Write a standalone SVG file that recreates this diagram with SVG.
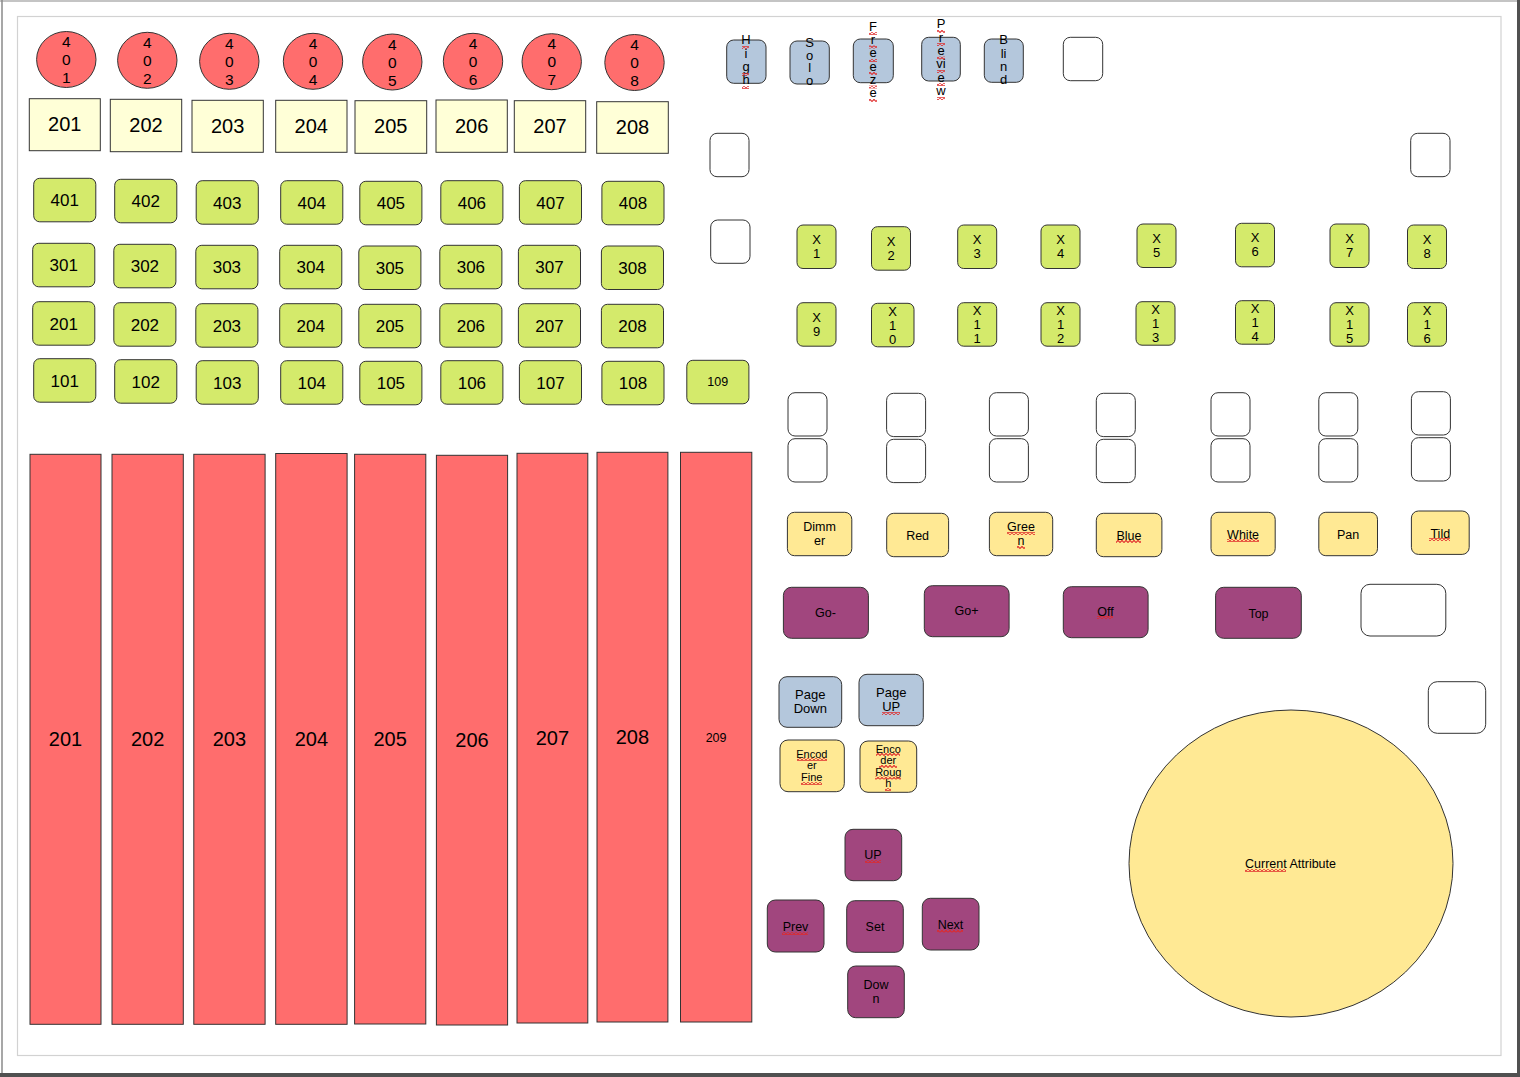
<svg xmlns="http://www.w3.org/2000/svg" width="1520" height="1077" viewBox="0 0 1520 1077">
<defs>
<pattern id="sq" patternUnits="userSpaceOnUse" width="4" height="3">
<path d="M0,2.6 L2,0.4 L4,2.6" fill="none" stroke="#e02828" stroke-width="1.1"/>
</pattern>
</defs>
<style>
.s{stroke:#333;stroke-width:1}
.red{fill:#ff6d6d}
.ly{fill:#ffffd7}
.gr{fill:#d4ea6b}
.bl{fill:#b4c7dc}
.go{fill:#ffe994}
.pu{fill:#a1467e}
.em{fill:#ffffff}
text{font-family:"Liberation Sans",Arial,sans-serif;fill:#000;text-anchor:middle}
.f20{font-size:20px}
.f17{font-size:17px}
.f15{font-size:15.5px}
.f13{font-size:13px}
.f125{font-size:12.5px}
.f11{font-size:11px}
.sqr{fill:url(#sq)}
</style>
<rect x="0" y="0" width="1520" height="1077" fill="#ffffff"/>
<g id="frame">
<line x1="0" y1="1" x2="1520" y2="1" stroke="#b0b0b0" stroke-width="1.5"/>
<line x1="2" y1="0" x2="2" y2="1077" stroke="#8a8a8a" stroke-width="1.5"/>
<rect x="1517" y="0" width="3" height="1077" fill="#505050"/>
<rect x="0" y="1073" width="1520" height="4" fill="#505050"/>
<rect x="17.5" y="16.5" width="1483.5" height="1039" fill="none" stroke="#d2d2d2" stroke-width="1.2"/>
</g>
<g id="connectors"></g>
<g id="circles">
<g id="c401"><ellipse class="red s" cx="66.3" cy="59.5" rx="29.7" ry="28"/><text class="f15"><tspan x="66.3" y="47">4</tspan><tspan x="66.3" y="65">0</tspan><tspan x="66.3" y="83">1</tspan></text></g>
<g id="c402"><ellipse class="red s" cx="147.3" cy="60.3" rx="29.7" ry="28"/><text class="f15"><tspan x="147.3" y="47.8">4</tspan><tspan x="147.3" y="65.8">0</tspan><tspan x="147.3" y="83.8">2</tspan></text></g>
<g id="c403"><ellipse class="red s" cx="229.3" cy="61.3" rx="29.7" ry="28"/><text class="f15"><tspan x="229.3" y="48.8">4</tspan><tspan x="229.3" y="66.8">0</tspan><tspan x="229.3" y="84.8">3</tspan></text></g>
<g id="c404"><ellipse class="red s" cx="313" cy="61.3" rx="29.7" ry="28"/><text class="f15"><tspan x="313" y="48.8">4</tspan><tspan x="313" y="66.8">0</tspan><tspan x="313" y="84.8">4</tspan></text></g>
<g id="c405"><ellipse class="red s" cx="392.3" cy="62" rx="29.7" ry="28"/><text class="f15"><tspan x="392.3" y="49.5">4</tspan><tspan x="392.3" y="67.5">0</tspan><tspan x="392.3" y="85.5">5</tspan></text></g>
<g id="c406"><ellipse class="red s" cx="473" cy="61.3" rx="29.7" ry="28"/><text class="f15"><tspan x="473" y="48.8">4</tspan><tspan x="473" y="66.8">0</tspan><tspan x="473" y="84.8">6</tspan></text></g>
<g id="c407"><ellipse class="red s" cx="551.7" cy="61.7" rx="29.7" ry="28"/><text class="f15"><tspan x="551.7" y="49.2">4</tspan><tspan x="551.7" y="67.2">0</tspan><tspan x="551.7" y="85.2">7</tspan></text></g>
<g id="c408"><ellipse class="red s" cx="634.5" cy="62.5" rx="29.7" ry="28"/><text class="f15"><tspan x="634.5" y="50">4</tspan><tspan x="634.5" y="68">0</tspan><tspan x="634.5" y="86">8</tspan></text></g>
</g>
<g id="labels">
<g id="l201"><rect class="ly s" x="29.3" y="98.7" width="71" height="52"/><text class="f20" x="64.8" y="131.2">201</text></g>
<g id="l202"><rect class="ly s" x="110.3" y="99.3" width="71.4" height="52.4"/><text class="f20" x="146" y="131.8">202</text></g>
<g id="l203"><rect class="ly s" x="192" y="100.3" width="71.3" height="52"/><text class="f20" x="227.6" y="132.8">203</text></g>
<g id="l204"><rect class="ly s" x="275.7" y="100.3" width="71.3" height="52"/><text class="f20" x="311.3" y="132.8">204</text></g>
<g id="l205"><rect class="ly s" x="355" y="100.7" width="71.7" height="52.6"/><text class="f20" x="390.8" y="133.3">205</text></g>
<g id="l206"><rect class="ly s" x="436" y="100" width="71.3" height="52.3"/><text class="f20" x="471.6" y="132.6">206</text></g>
<g id="l207"><rect class="ly s" x="514.3" y="100.7" width="71.4" height="51.6"/><text class="f20" x="550" y="133">207</text></g>
<g id="l208"><rect class="ly s" x="596.7" y="101.7" width="71.6" height="51.6"/><text class="f20" x="632.5" y="134">208</text></g>
</g>
<g id="buttons">
<g id="b401"><rect class="gr s" x="33.7" y="178.3" width="62.1" height="43.5" rx="6"/><text class="f17" x="64.8" y="206.3">401</text></g>
<g id="b402"><rect class="gr s" x="114.7" y="179.3" width="62.1" height="43.5" rx="6"/><text class="f17" x="145.8" y="207.3">402</text></g>
<g id="b403"><rect class="gr s" x="196.2" y="180.7" width="62.1" height="43.5" rx="6"/><text class="f17" x="227.3" y="208.7">403</text></g>
<g id="b404"><rect class="gr s" x="280.7" y="180.7" width="62.1" height="43.5" rx="6"/><text class="f17" x="311.8" y="208.7">404</text></g>
<g id="b405"><rect class="gr s" x="359.8" y="181.3" width="62.1" height="43.5" rx="6"/><text class="f17" x="390.9" y="209.3">405</text></g>
<g id="b406"><rect class="gr s" x="440.8" y="180.7" width="62.1" height="43.5" rx="6"/><text class="f17" x="471.9" y="208.7">406</text></g>
<g id="b407"><rect class="gr s" x="519.4" y="180.7" width="62.1" height="43.5" rx="6"/><text class="f17" x="550.5" y="208.7">407</text></g>
<g id="b408"><rect class="gr s" x="601.9" y="181.3" width="62.1" height="43.5" rx="6"/><text class="f17" x="633" y="209.3">408</text></g>

<g id="b301"><rect class="gr s" x="32.7" y="243.3" width="62.1" height="43.5" rx="6"/><text class="f17" x="63.8" y="271.3">301</text></g>
<g id="b302"><rect class="gr s" x="113.8" y="244.3" width="62.1" height="43.5" rx="6"/><text class="f17" x="144.9" y="272.3">302</text></g>
<g id="b303"><rect class="gr s" x="195.8" y="245.3" width="62.1" height="43.5" rx="6"/><text class="f17" x="226.9" y="273.3">303</text></g>
<g id="b304"><rect class="gr s" x="279.7" y="245.3" width="62.1" height="43.5" rx="6"/><text class="f17" x="310.8" y="273.3">304</text></g>
<g id="b305"><rect class="gr s" x="358.8" y="246" width="62.1" height="43.5" rx="6"/><text class="f17" x="389.9" y="274">305</text></g>
<g id="b306"><rect class="gr s" x="439.8" y="245.3" width="62.1" height="43.5" rx="6"/><text class="f17" x="470.9" y="273.3">306</text></g>
<g id="b307"><rect class="gr s" x="518.4" y="245.3" width="62.1" height="43.5" rx="6"/><text class="f17" x="549.5" y="273.3">307</text></g>
<g id="b308"><rect class="gr s" x="601.4" y="246" width="62.1" height="43.5" rx="6"/><text class="f17" x="632.5" y="274">308</text></g>

<g id="b201"><rect class="gr s" x="32.7" y="301.7" width="62.1" height="43.5" rx="6"/><text class="f17" x="63.8" y="329.7">201</text></g>
<g id="b202"><rect class="gr s" x="113.8" y="302.7" width="62.1" height="43.5" rx="6"/><text class="f17" x="144.9" y="330.7">202</text></g>
<g id="b203"><rect class="gr s" x="195.8" y="303.7" width="62.1" height="43.5" rx="6"/><text class="f17" x="226.9" y="331.7">203</text></g>
<g id="b204"><rect class="gr s" x="279.7" y="303.7" width="62.1" height="43.5" rx="6"/><text class="f17" x="310.8" y="331.7">204</text></g>
<g id="b205"><rect class="gr s" x="358.8" y="304.3" width="62.1" height="43.5" rx="6"/><text class="f17" x="389.9" y="332.3">205</text></g>
<g id="b206"><rect class="gr s" x="439.8" y="303.7" width="62.1" height="43.5" rx="6"/><text class="f17" x="470.9" y="331.7">206</text></g>
<g id="b207"><rect class="gr s" x="518.4" y="303.7" width="62.1" height="43.5" rx="6"/><text class="f17" x="549.5" y="331.7">207</text></g>
<g id="b208"><rect class="gr s" x="601.4" y="304.3" width="62.1" height="43.5" rx="6"/><text class="f17" x="632.5" y="332.3">208</text></g>

<g id="b101"><rect class="gr s" x="33.7" y="358.7" width="62.1" height="43.5" rx="6"/><text class="f17" x="64.8" y="386.7">101</text></g>
<g id="b102"><rect class="gr s" x="114.7" y="359.7" width="62.1" height="43.5" rx="6"/><text class="f17" x="145.8" y="387.7">102</text></g>
<g id="b103"><rect class="gr s" x="196.2" y="360.7" width="62.1" height="43.5" rx="6"/><text class="f17" x="227.3" y="388.7">103</text></g>
<g id="b104"><rect class="gr s" x="280.7" y="360.7" width="62.1" height="43.5" rx="6"/><text class="f17" x="311.8" y="388.7">104</text></g>
<g id="b105"><rect class="gr s" x="359.8" y="361.3" width="62.1" height="43.5" rx="6"/><text class="f17" x="390.9" y="389.3">105</text></g>
<g id="b106"><rect class="gr s" x="440.8" y="360.7" width="62.1" height="43.5" rx="6"/><text class="f17" x="471.9" y="388.7">106</text></g>
<g id="b107"><rect class="gr s" x="519.4" y="360.7" width="62.1" height="43.5" rx="6"/><text class="f17" x="550.5" y="388.7">107</text></g>
<g id="b108"><rect class="gr s" x="601.9" y="361.3" width="62.1" height="43.5" rx="6"/><text class="f17" x="633" y="389.3">108</text></g>
<g id="b109"><rect class="gr s" x="686.8" y="360.3" width="62.1" height="43.5" rx="6"/><text class="f125" x="717.8" y="386.3">109</text></g>
</g>
<g id="faders">
<g id="f201"><rect class="red s" x="30" y="454.3" width="71" height="570"/><text class="f20" x="65.5" y="746">201</text></g>
<g id="f202"><rect class="red s" x="112" y="454.3" width="71.3" height="570"/><text class="f20" x="147.6" y="746">202</text></g>
<g id="f203"><rect class="red s" x="193.8" y="454.3" width="71.3" height="570"/><text class="f20" x="229.4" y="746">203</text></g>
<g id="f204"><rect class="red s" x="275.7" y="453.5" width="71.4" height="570.8"/><text class="f20" x="311.4" y="746">204</text></g>
<g id="f205"><rect class="red s" x="354.6" y="454.3" width="71.2" height="569.7"/><text class="f20" x="390.2" y="746">205</text></g>
<g id="f206"><rect class="red s" x="436.4" y="455.3" width="71.2" height="569.7"/><text class="f20" x="472" y="747.3">206</text></g>
<g id="f207"><rect class="red s" x="517" y="453.3" width="70.8" height="569.7"/><text class="f20" x="552.4" y="745">207</text></g>
<g id="f208"><rect class="red s" x="597" y="452.3" width="70.9" height="569.7"/><text class="f20" x="632.4" y="744">208</text></g>
<g id="f209"><rect class="red s" x="680.5" y="452.3" width="71.3" height="569.7"/><text class="f125" x="716.1" y="742">209</text></g>
</g>
<g id="modes">
<g id="high"><rect class="bl s" x="726.7" y="40" width="39.3" height="43.3" rx="7"/><text class="f13"><tspan x="746" y="44.3">H</tspan><tspan x="746" y="57.7">i</tspan><tspan x="746" y="71">g</tspan><tspan x="746" y="84.3">h</tspan></text></g>
<g id="solo"><rect class="bl s" x="790" y="41" width="39.3" height="43" rx="7"/><text class="f13"><tspan x="809.6" y="46.7">S</tspan><tspan x="809.6" y="59.5">o</tspan><tspan x="809.6" y="72.3">l</tspan><tspan x="809.6" y="85">o</tspan></text></g>
<g id="freeze"><rect class="bl s" x="853.3" y="39" width="40" height="43.7" rx="7"/><text class="f13"><tspan x="873" y="30.7">F</tspan><tspan x="873" y="44">r</tspan><tspan x="873" y="57.3">e</tspan><tspan x="873" y="70.6">e</tspan><tspan x="873" y="84">z</tspan><tspan x="873" y="97.3">e</tspan></text></g>
<g id="preview"><rect class="bl s" x="921.7" y="37.3" width="38.6" height="43.7" rx="7"/><text class="f13"><tspan x="941" y="28.3">P</tspan><tspan x="941" y="41.7">r</tspan><tspan x="941" y="55">e</tspan><tspan x="941" y="68.4">vi</tspan><tspan x="941" y="81.8">e</tspan><tspan x="941" y="95.2">w</tspan></text></g>
<g id="blind"><rect class="bl s" x="984.3" y="39" width="39" height="43.3" rx="7"/><text class="f13"><tspan x="1003.6" y="44.3">B</tspan><tspan x="1003.6" y="57.7">li</tspan><tspan x="1003.6" y="71">n</tspan><tspan x="1003.6" y="84.4">d</tspan></text></g>
<g id="empty1"><rect class="em s" x="1063.3" y="37.3" width="39.4" height="43.4" rx="7"/></g>
<g id="empty2"><rect class="em s" x="710" y="133.3" width="39" height="43.4" rx="7"/></g>
<g id="empty3"><rect class="em s" x="710.7" y="220" width="39.3" height="43.3" rx="7"/></g>
<g id="empty4"><rect class="em s" x="1410.7" y="133.3" width="39.3" height="43.4" rx="7"/></g>
</g>
<g id="executors">
<g id="x1"><rect class="gr s" x="797" y="225" width="39" height="43.5" rx="6"/><text class="f13"><tspan x="816.5" y="244">X</tspan><tspan x="816.5" y="258">1</tspan></text></g>
<g id="x2"><rect class="gr s" x="871.5" y="226.7" width="39" height="43.5" rx="6"/><text class="f13"><tspan x="891" y="245.7">X</tspan><tspan x="891" y="259.7">2</tspan></text></g>
<g id="x3"><rect class="gr s" x="957.7" y="225" width="39" height="43.5" rx="6"/><text class="f13"><tspan x="977.2" y="244">X</tspan><tspan x="977.2" y="258">3</tspan></text></g>
<g id="x4"><rect class="gr s" x="1041" y="225" width="39" height="43.5" rx="6"/><text class="f13"><tspan x="1060.5" y="244">X</tspan><tspan x="1060.5" y="258">4</tspan></text></g>
<g id="x5"><rect class="gr s" x="1137" y="224" width="39" height="43.5" rx="6"/><text class="f13"><tspan x="1156.5" y="243">X</tspan><tspan x="1156.5" y="257">5</tspan></text></g>
<g id="x6"><rect class="gr s" x="1235.5" y="223.3" width="39" height="43.5" rx="6"/><text class="f13"><tspan x="1255" y="242.3">X</tspan><tspan x="1255" y="256.3">6</tspan></text></g>
<g id="x7"><rect class="gr s" x="1330" y="224" width="39" height="43.5" rx="6"/><text class="f13"><tspan x="1349.5" y="243">X</tspan><tspan x="1349.5" y="257">7</tspan></text></g>
<g id="x8"><rect class="gr s" x="1407.5" y="225" width="39" height="43.5" rx="6"/><text class="f13"><tspan x="1427" y="244">X</tspan><tspan x="1427" y="258">8</tspan></text></g>
<g id="x9"><rect class="gr s" x="797" y="302.7" width="39" height="43.5" rx="6"/><text class="f13"><tspan x="816.5" y="321.7">X</tspan><tspan x="816.5" y="335.7">9</tspan></text></g>
<g id="x10"><rect class="gr s" x="871.5" y="303.3" width="42.5" height="43.5" rx="6"/><text class="f13"><tspan x="892.7" y="315.6">X</tspan><tspan x="892.7" y="329.6">1</tspan><tspan x="892.7" y="343.6">0</tspan></text></g>
<g id="x11"><rect class="gr s" x="957.7" y="302.7" width="39" height="43.5" rx="6"/><text class="f13"><tspan x="977.2" y="315">X</tspan><tspan x="977.2" y="329">1</tspan><tspan x="977.2" y="343">1</tspan></text></g>
<g id="x12"><rect class="gr s" x="1041" y="302.7" width="39" height="43.5" rx="6"/><text class="f13"><tspan x="1060.5" y="315">X</tspan><tspan x="1060.5" y="329">1</tspan><tspan x="1060.5" y="343">2</tspan></text></g>
<g id="x13"><rect class="gr s" x="1136" y="301.7" width="39" height="43.5" rx="6"/><text class="f13"><tspan x="1155.5" y="314">X</tspan><tspan x="1155.5" y="328">1</tspan><tspan x="1155.5" y="342">3</tspan></text></g>
<g id="x14"><rect class="gr s" x="1235.5" y="300.7" width="39" height="43.5" rx="6"/><text class="f13"><tspan x="1255" y="313">X</tspan><tspan x="1255" y="327">1</tspan><tspan x="1255" y="341">4</tspan></text></g>
<g id="x15"><rect class="gr s" x="1330" y="302.7" width="39" height="43.5" rx="6"/><text class="f13"><tspan x="1349.5" y="315">X</tspan><tspan x="1349.5" y="329">1</tspan><tspan x="1349.5" y="343">5</tspan></text></g>
<g id="x16"><rect class="gr s" x="1407.5" y="302.7" width="39" height="43.5" rx="6"/><text class="f13"><tspan x="1427" y="315">X</tspan><tspan x="1427" y="329">1</tspan><tspan x="1427" y="343">6</tspan></text></g>
</g>
<g id="encoders">
<g id="e1"><rect class="em s" x="788" y="392.7" width="39" height="43.3" rx="7"/><rect class="em s" x="788" y="438.7" width="39" height="43.3" rx="7"/></g>
<g id="e2"><rect class="em s" x="886.6" y="393.3" width="39" height="43.3" rx="7"/><rect class="em s" x="886.6" y="439.3" width="39" height="43.3" rx="7"/></g>
<g id="e3"><rect class="em s" x="989.4" y="392.7" width="39" height="43.3" rx="7"/><rect class="em s" x="989.4" y="438.7" width="39" height="43.3" rx="7"/></g>
<g id="e4"><rect class="em s" x="1096.3" y="393.3" width="39" height="43.3" rx="7"/><rect class="em s" x="1096.3" y="439.3" width="39" height="43.3" rx="7"/></g>
<g id="e5"><rect class="em s" x="1211" y="392.7" width="39" height="43.3" rx="7"/><rect class="em s" x="1211" y="438.7" width="39" height="43.3" rx="7"/></g>
<g id="e6"><rect class="em s" x="1318.8" y="392.7" width="39" height="43.3" rx="7"/><rect class="em s" x="1318.8" y="438.7" width="39" height="43.3" rx="7"/></g>
<g id="e7"><rect class="em s" x="1411.4" y="391.7" width="39" height="43.3" rx="7"/><rect class="em s" x="1411.4" y="437.7" width="39" height="43.3" rx="7"/></g>
</g>
<g id="attributes">
<g id="dimmer"><rect class="go s" x="787.4" y="512.3" width="64.4" height="43.4" rx="7"/><text class="f125"><tspan x="819.6" y="531">Dimm</tspan><tspan x="819.6" y="545">er</tspan></text></g>
<g id="red"><rect class="go s" x="886.7" y="513.3" width="61.9" height="43.4" rx="7"/><text class="f125" x="917.6" y="539.5">Red</text></g>
<g id="green"><rect class="go s" x="989.4" y="512.3" width="63.3" height="43.4" rx="7"/><text class="f125"><tspan x="1021" y="531">Gree</tspan><tspan x="1021" y="545">n</tspan></text></g>
<g id="blue"><rect class="go s" x="1096.3" y="513.3" width="65.6" height="43.4" rx="7"/><text class="f125" x="1129" y="539.5">Blue</text></g>
<g id="white"><rect class="go s" x="1211" y="512.3" width="64.2" height="43.4" rx="7"/><text class="f125" x="1243.1" y="538.5">White</text></g>
<g id="pan"><rect class="go s" x="1318.8" y="512.3" width="58.7" height="43.4" rx="7"/><text class="f125" x="1348.1" y="538.5">Pan</text></g>
<g id="tild"><rect class="go s" x="1411.4" y="511" width="57.8" height="43.4" rx="7"/><text class="f125" x="1440.3" y="537.5">Tild</text></g>
</g>
<g id="playback">
<g id="gominus"><rect class="pu s" x="783.4" y="587.3" width="85" height="51" rx="8"/><text class="f125" x="825.5" y="617">Go-</text></g>
<g id="goplus"><rect class="pu s" x="924.3" y="585.7" width="84.8" height="51" rx="8"/><text class="f125" x="966.5" y="614.5">Go+</text></g>
<g id="off"><rect class="pu s" x="1063.3" y="586.7" width="84.8" height="51" rx="8"/><text class="f125" x="1105.5" y="615.5">Off</text></g>
<g id="top"><rect class="pu s" x="1215.6" y="587.3" width="85.7" height="51" rx="8"/><text class="f125" x="1258.5" y="617.5">Top</text></g>
<g id="empty5"><rect class="em s" x="1361" y="584.3" width="84.8" height="51.7" rx="9"/></g>
</g>
<g id="paging">
<g id="pagedown"><rect class="bl s" x="779" y="676.7" width="62.7" height="50.6" rx="8"/><text class="f13"><tspan x="810.3" y="699.3">Page</tspan><tspan x="810.3" y="713.3">Down</tspan></text></g>
<g id="pageup"><rect class="bl s" x="859" y="674.3" width="64.3" height="51.4" rx="8"/><text class="f13"><tspan x="891.2" y="697.3">Page</tspan><tspan x="891.2" y="711">UP</tspan></text></g>
<g id="encfine"><rect class="go s" x="780" y="740" width="64.3" height="51.7" rx="8"/><text class="f11"><tspan x="811.8" y="757.5">Encod</tspan><tspan x="811.8" y="769.3">er</tspan><tspan x="811.8" y="781">Fine</tspan></text></g>
<g id="encrough"><rect class="go s" x="860" y="741" width="56.7" height="51.3" rx="8"/><text class="f11"><tspan x="888.3" y="752.8">Enco</tspan><tspan x="888.3" y="764.2">der</tspan><tspan x="888.3" y="775.6">Roug</tspan><tspan x="888.3" y="787">h</tspan></text></g>
</g>
<g id="navigation">
<g id="up"><rect class="pu s" x="845" y="829.3" width="56.7" height="51.4" rx="8"/><text class="f125" x="873" y="859">UP</text></g>
<g id="prev"><rect class="pu s" x="767.3" y="900" width="56.7" height="52" rx="8"/><text class="f125" x="795.5" y="931">Prev</text></g>
<g id="set"><rect class="pu s" x="846.7" y="900.7" width="56.6" height="51.6" rx="8"/><text class="f125" x="875" y="930.7">Set</text></g>
<g id="next"><rect class="pu s" x="922.3" y="898.3" width="56.7" height="51.7" rx="8"/><text class="f125" x="950.5" y="928.5">Next</text></g>
<g id="down"><rect class="pu s" x="847.7" y="966" width="56.6" height="51.7" rx="8"/><text class="f125"><tspan x="876" y="989.3">Dow</tspan><tspan x="876" y="1002.7">n</tspan></text></g>
</g>
<g id="attrwheel">
<g id="empty6"><rect class="em s" x="1428.3" y="681.7" width="57.4" height="51.6" rx="9"/></g>
<g id="current"><ellipse class="go s" cx="1291" cy="863.5" rx="162" ry="153.5"/><text class="f125" x="1290.5" y="868.3">Current Attribute</text></g>
</g>
<g id="spellcheck">
<rect class="sqr" x="742" y="46" width="7" height="3"/>
<rect class="sqr" x="742" y="73" width="7" height="3"/>
<rect class="sqr" x="742" y="86" width="7" height="3"/>
<rect class="sqr" x="869" y="32" width="8" height="3"/>
<rect class="sqr" x="869" y="45.5" width="8" height="3"/>
<rect class="sqr" x="869" y="59" width="8" height="3"/>
<rect class="sqr" x="869" y="72" width="8" height="3"/>
<rect class="sqr" x="869" y="85.5" width="8" height="3"/>
<rect class="sqr" x="869" y="99" width="8" height="3"/>
<rect class="sqr" x="937" y="30" width="8" height="3"/>
<rect class="sqr" x="937" y="43" width="8" height="3"/>
<rect class="sqr" x="937" y="56.5" width="8" height="3"/>
<rect class="sqr" x="937" y="70" width="8" height="3"/>
<rect class="sqr" x="937" y="83" width="8" height="3"/>
<rect class="sqr" x="937" y="97" width="8" height="3"/>
<rect class="sqr" x="1007" y="532" width="28" height="3"/>
<rect class="sqr" x="1017" y="546" width="8" height="3"/>
<rect class="sqr" x="1116" y="540" width="25" height="3"/>
<rect class="sqr" x="1227" y="539" width="32" height="3"/>
<rect class="sqr" x="1429" y="538" width="21" height="3"/>
<rect class="sqr" x="1097" y="616" width="16" height="3"/>
<rect class="sqr" x="882" y="712" width="18" height="3"/>
<rect class="sqr" x="797" y="758" width="30" height="3"/>
<rect class="sqr" x="801" y="782" width="21" height="3"/>
<rect class="sqr" x="876" y="753" width="24" height="3"/>
<rect class="sqr" x="879" y="765" width="18" height="3"/>
<rect class="sqr" x="875" y="776.5" width="26" height="3"/>
<rect class="sqr" x="885" y="788" width="6" height="3"/>
<rect class="sqr" x="865" y="860" width="16" height="3"/>
<rect class="sqr" x="782" y="932" width="26" height="3"/>
<rect class="sqr" x="937" y="929.5" width="26" height="3"/>
<rect class="sqr" x="1245" y="869" width="41" height="3"/>
</g>
</svg>
